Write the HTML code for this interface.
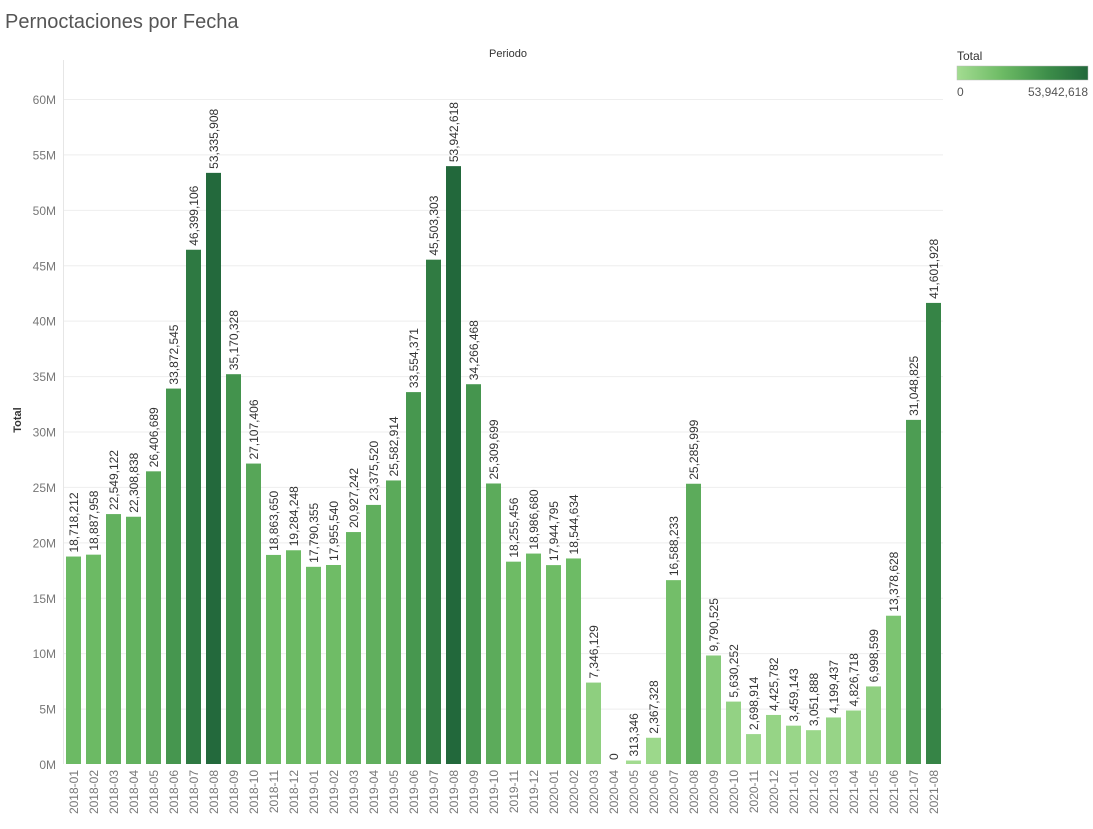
<!DOCTYPE html>
<html><head><meta charset="utf-8"><style>
body{margin:0;background:#fff;font-family:"Liberation Sans",sans-serif;}
</style></head><body>
<svg id="chart" width="1093" height="824" xmlns="http://www.w3.org/2000/svg" font-family="Liberation Sans, sans-serif">
<text x="5" y="28" font-size="20" fill="#555">Pernoctaciones por Fecha</text>
<text x="508" y="57" font-size="11" fill="#333" text-anchor="middle">Periodo</text>
<text transform="translate(21,420) rotate(-90)" font-size="11" font-weight="bold" fill="#333" text-anchor="middle">Total</text>
<g id="grid"></g><g id="bars"></g>
<line x1="63.5" y1="60" x2="63.5" y2="764" stroke="#e6e6e6"/>
<g>
<text x="957" y="60" font-size="12" fill="#333">Total</text>
<defs><linearGradient id="lg"><stop offset="0" stop-color="#a3dc91"/><stop offset="0.35" stop-color="#6cba64"/><stop offset="0.7" stop-color="#3c8d49"/><stop offset="1" stop-color="#22683b"/></linearGradient></defs>
<rect x="957" y="66" width="131" height="14" fill="url(#lg)" stroke="#bbb" stroke-width="0.5"/>
<text x="957" y="96" font-size="12" fill="#555">0</text>
<text x="1088" y="96" font-size="12" fill="#555" text-anchor="end">53,942,618</text>
</g>
</svg>
<script>
const categories=["2018-01","2018-02","2018-03","2018-04","2018-05","2018-06","2018-07","2018-08","2018-09","2018-10","2018-11","2018-12","2019-01","2019-02","2019-03","2019-04","2019-05","2019-06","2019-07","2019-08","2019-09","2019-10","2019-11","2019-12","2020-01","2020-02","2020-03","2020-04","2020-05","2020-06","2020-07","2020-08","2020-09","2020-10","2020-11","2020-12","2021-01","2021-02","2021-03","2021-04","2021-05","2021-06","2021-07","2021-08"];
const values=[18718212,18887958,22549122,22308838,26406689,33872545,46399106,53335908,35170328,27107406,18863650,19284248,17790355,17955540,20927242,23375520,25582914,33554371,45503303,53942618,34266468,25309699,18255456,18986680,17944795,18544634,7346129,0,313346,2367328,16588233,25285999,9790525,5630252,2698914,4425782,3459143,3051888,4199437,4826718,6998599,13378628,31048825,41601928];
const yTicks=[0,5,10,15,20,25,30,35,40,45,50,55,60];
const NS="http://www.w3.org/2000/svg";
const y0=764,pxPerM=(764-99)/60;
function yS(v){return y0-v/1e6*pxPerM;}
function xS(i){return 66+i*20;}
const stops=[[0,[163,220,145]],[0.35,[108,186,100]],[0.7,[60,141,73]],[1,[34,104,59]]];
function col(t){for(let k=1;k<stops.length;k++){if(t<=stops[k][0]){const a=stops[k-1],b=stops[k],f=(t-a[0])/(b[0]-a[0]);return "rgb("+a[1].map((c,j)=>Math.round(c+(b[1][j]-c)*f)).join(",")+")";}}return "rgb(34,104,59)";}
const maxV=Math.max(...values);
const grid=document.getElementById("grid"),bars=document.getElementById("bars");
function mk(tag,attrs,parent){const e=document.createElementNS(NS,tag);for(const k in attrs)e.setAttribute(k,attrs[k]);parent.appendChild(e);return e;}
yTicks.forEach(t=>{const y=yS(t*1e6);
 const l=mk("line",{x1:64,x2:943,y1:y+0.5,y2:y+0.5,stroke:t===0?"#fff":"#eeeeee"},grid);
 
 
 const tx=mk("text",{x:56,y:y+5,"font-size":12,fill:"#777","text-anchor":"end"},grid);
 tx.textContent=t+"M";
 
 
});
categories.forEach((c,i)=>{const v=values[i],x=xS(i),y=yS(v);
 const r=mk("rect",{x:x,y:y,width:15,height:y0-y,fill:col(v/maxV)},bars);
 
 
 const lb=mk("text",{transform:"translate("+(x+12)+","+(y-4)+") rotate(-90)","font-size":12,fill:"#333"},bars);
 lb.textContent=v.toLocaleString("en-US");
 
 
 const xl=mk("text",{transform:"translate("+(x+12)+",770) rotate(-90)","font-size":12,fill:"#777","text-anchor":"end"},bars);
 xl.textContent=c;
 
 
});
</script>
</body></html>
